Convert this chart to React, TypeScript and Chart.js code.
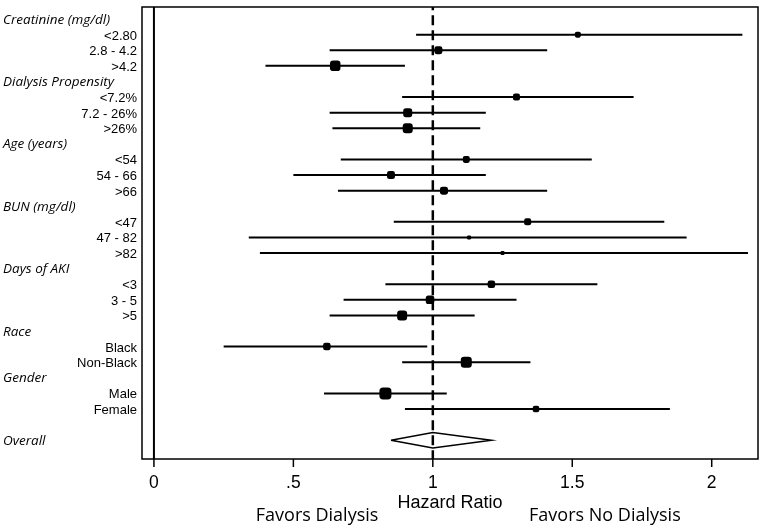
import React, { useEffect, useRef } from "react";
import { Chart, registerables } from "chart.js";

Chart.register(...registerables);

// ---- data ----
const headerLabels = ["Creatinine (mg/dl)", "Dialysis Propensity", "Age (years)", "BUN (mg/dl)", "Days of AKI", "Race", "Gender", "Overall"];
const headerRows = [0, 4, 8, 12, 16, 20, 23, 27];

const subgroupLabels = ["<2.80", "2.8 - 4.2", ">4.2", "<7.2%", "7.2 - 26%", ">26%", "<54", "54 - 66", ">66", "<47", "47 - 82", ">82", "<3", "3 - 5", ">5", "Black", "Non-Black", "Male", "Female"];
const subgroupRows = [1, 2, 3, 5, 6, 7, 9, 10, 11, 13, 14, 15, 17, 18, 19, 21, 22, 24, 25];
const hazardRatios = [1.52, 1.02, 0.65, 1.30, 0.91, 0.91, 1.12, 0.85, 1.04, 1.34, 1.13, 1.25, 1.21, 0.99, 0.89, 0.62, 1.12, 0.83, 1.37];
const ciLower = [0.94, 0.63, 0.40, 0.89, 0.63, 0.64, 0.67, 0.50, 0.66, 0.86, 0.34, 0.38, 0.83, 0.68, 0.63, 0.25, 0.89, 0.61, 0.90];
const ciUpper = [2.11, 1.41, 0.90, 1.72, 1.19, 1.17, 1.57, 1.19, 1.41, 1.83, 1.91, 2.13, 1.59, 1.30, 1.15, 0.98, 1.35, 1.05, 1.85];
const weights = [6, 8, 10.5, 7, 9, 10, 7, 8, 8, 7, 4, 4, 7.5, 8.5, 10, 7.5, 11, 12, 6.5];

const overallRow = 27;
const overallHR = 1.0;
const overallLower = 0.85;
const overallUpper = 1.21;

const xTickValues = [0, 0.5, 1, 1.5, 2];
const xTickLabels = ["0", ".5", "1", "1.5", "2"];
const xTitle = "Hazard Ratio";
const favorLabels = ["Favors Dialysis", "Favors No Dialysis"];
const favorPositions = [0.585, 1.617];

const X_MIN = -0.0428;
const X_MAX = 2.166;
const Y_MIN = -0.774;
const Y_MAX = 28.205;

const decorPlugin = {
  id: "forestDecor",
  afterDraw(chart: any) {
    const { ctx, chartArea: a, scales } = chart;
    const x = scales.x;
    const y = scales.y;
    ctx.save();
    ctx.strokeStyle = "#000";
    ctx.fillStyle = "#000";
    ctx.lineWidth = 1.5;
    ctx.strokeRect(a.left, a.top, a.right - a.left, a.bottom - a.top);

    // x ticks + labels
    ctx.textAlign = "center";
    ctx.textBaseline = "alphabetic";
    xTickValues.forEach((v, i) => {
      const px = x.getPixelForValue(v);
      ctx.beginPath();
      ctx.moveTo(px, a.bottom);
      ctx.lineTo(px, a.bottom + 8);
      ctx.stroke();
      ctx.font = '17.5px "Liberation Sans", Arial, sans-serif';
      ctx.fillText(xTickLabels[i], px, a.bottom + 29.3);
    });
    ctx.font = '18px "Liberation Sans", Arial, sans-serif';
    ctx.fillText(xTitle, (a.left + a.right) / 2, a.bottom + 49.3);
    ctx.font = '18px "Open Sans", sans-serif';
    favorLabels.forEach((t, i) => {
      ctx.fillText(t, x.getPixelForValue(favorPositions[i]), a.bottom + 62);
    });

    // y labels
    ctx.textAlign = "left";
    ctx.font = 'italic 13.5px "Open Sans", sans-serif';
    headerLabels.forEach((t, i) => {
      ctx.fillText(t, 3, y.getPixelForValue(headerRows[i]) + 4.5);
    });
    ctx.textAlign = "right";
    ctx.font = '13px "Liberation Sans", Arial, sans-serif';
    subgroupLabels.forEach((t, i) => {
      ctx.fillText(t, a.left - 5, y.getPixelForValue(subgroupRows[i]) + 5);
    });
    ctx.restore();
  },
};

export default function App() {
  const ref = useRef<HTMLCanvasElement | null>(null);

  useEffect(() => {
    if (!ref.current) return;

    const ciData: any[] = [];
    subgroupRows.forEach((r, i) => {
      ciData.push({ x: ciLower[i], y: r });
      ciData.push({ x: ciUpper[i], y: r });
      ciData.push({ x: ciUpper[i], y: null });
    });

    const pointData = subgroupRows.map((r, i) => ({ x: hazardRatios[i], y: r }));

    const diamond = [
      { x: overallLower, y: overallRow },
      { x: overallHR, y: overallRow - 0.5 },
      { x: overallUpper, y: overallRow },
      { x: overallHR, y: overallRow + 0.5 },
      { x: overallLower, y: overallRow },
    ];

    const chart = new Chart(ref.current, {
      type: "scatter",
      data: {
        datasets: [
          {
            label: "Estimates",
            data: pointData,
            pointStyle: "rectRounded",
            pointRadius: weights.map((w) => w / 1.716),
            backgroundColor: "#000",
            borderColor: "#000",
            borderWidth: 0,
            showLine: false,
          } as any,
          {
            label: "CI",
            data: ciData,
            showLine: true,
            spanGaps: false,
            borderColor: "#000",
            borderWidth: 2,
            pointRadius: 0,
            borderCapStyle: "butt",
          } as any,
          {
            label: "Overall",
            data: diamond,
            showLine: true,
            borderColor: "#000",
            borderWidth: 1.5,
            pointRadius: 0,
            fill: false,
            tension: 0,
            borderJoinStyle: "miter",
          } as any,
          {
            label: "Null",
            data: [
              { x: 1, y: Y_MIN },
              { x: 1, y: Y_MAX },
            ],
            showLine: true,
            borderColor: "#000",
            borderWidth: 2.5,
            borderDash: [10, 5],
            borderDashOffset: 6.7,
            pointRadius: 0,
          } as any,
          {
            label: "Zero",
            data: [
              { x: 0, y: Y_MIN },
              { x: 0, y: Y_MAX },
            ],
            showLine: true,
            borderColor: "#000",
            borderWidth: 2,
            pointRadius: 0,
          } as any,
        ],
      },
      options: {
        responsive: false,
        animation: false,
        events: [],
        layout: { padding: { left: 142, right: 3, top: 2, bottom: 69 } },
        scales: {
          x: { type: "linear", min: X_MIN, max: X_MAX, display: false },
          y: { type: "linear", min: Y_MIN, max: Y_MAX, reverse: true, display: false },
        },
        plugins: {
          legend: { display: false },
          tooltip: { enabled: false },
        },
      },
      plugins: [decorPlugin],
    });

    return () => chart.destroy();
  }, []);

  return (
    <div style={{ position: "absolute", left: 0, top: 0, width: 765, height: 528, background: "#fff" }}>
      <canvas ref={ref} width={765} height={528} style={{ display: "block" }} />
    </div>
  );
}
